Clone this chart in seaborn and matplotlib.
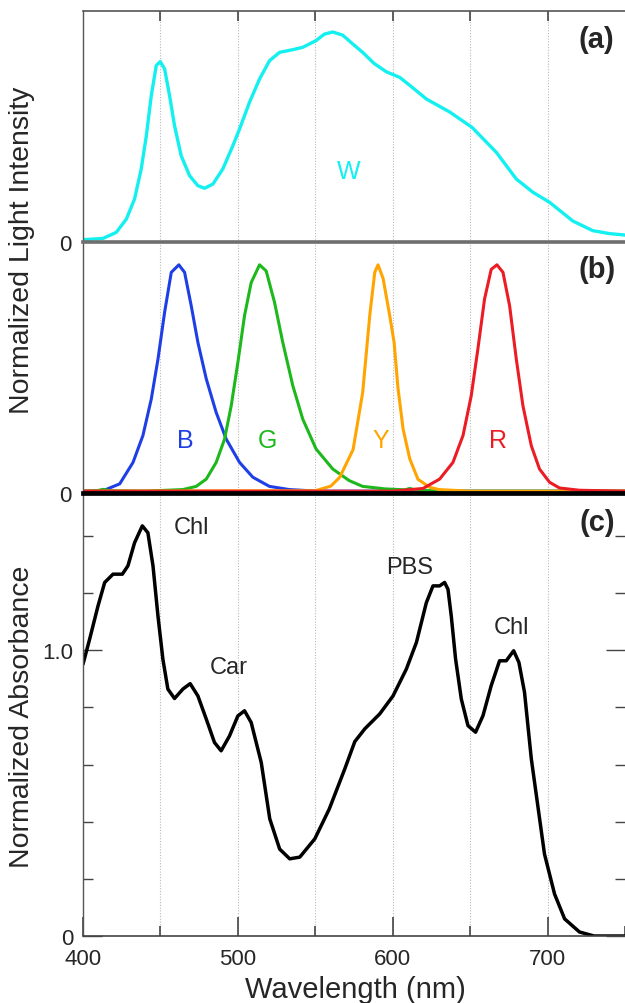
import numpy as np
import pandas as pd
import matplotlib
matplotlib.use("Agg")
import matplotlib.pyplot as plt
from matplotlib.ticker import MultipleLocator, FixedLocator
import seaborn as sns

# ---------------- data ----------------
w_wl = [400, 412.9, 421.5, 428, 433.3, 437.6, 440.9, 444.1, 447.3, 449.9, 452.7, 455.9, 459.1,
        463.4, 468.8, 474.2, 478.5, 483.9, 490.3, 496.8, 501.1, 507.5, 514, 520.4, 526.9, 535.5,
        541.9, 550.5, 555.9, 561.3, 567.7, 574.2, 580.6, 588, 596, 604.5, 612, 621.7, 636.8,
        651.2, 666.9, 679.8, 690.5, 701.3, 716.3, 729.2, 740, 750]
w_val = [0.011, 0.017, 0.046, 0.109, 0.205, 0.348, 0.506, 0.697, 0.84, 0.859, 0.824, 0.697, 0.554,
         0.411, 0.316, 0.268, 0.256, 0.276, 0.348, 0.459, 0.538, 0.665, 0.776, 0.863, 0.903, 0.916,
         0.927, 0.959, 0.99, 1.0, 0.985, 0.943, 0.903, 0.85, 0.81, 0.784, 0.74, 0.681, 0.619,
         0.546, 0.427, 0.30, 0.237, 0.189, 0.10, 0.054, 0.04, 0.033]

b_wl = [400, 412.9, 423.7, 432.3, 438.7, 444.1, 448.4, 452.7, 457, 461.9, 465.6, 469.9, 474.2,
        479.6, 486, 492.5, 501.1, 509.7, 520.4, 533.3, 546.2, 560, 750]
b_val = [0.008, 0.01, 0.04, 0.134, 0.252, 0.412, 0.586, 0.792, 0.967, 1.0, 0.967, 0.82, 0.66,
         0.50, 0.353, 0.236, 0.134, 0.069, 0.029, 0.015, 0.01, 0.008, 0.008]

g_wl = [400, 409, 413, 417, 440, 464.5, 473.1, 479.6, 486, 491.4, 495.7, 500, 504.3, 508.6,
        514, 518.3, 523.7, 529, 535.5, 541.9, 550.5, 561.3, 572, 580.6, 595, 608, 611, 614,
        625, 650, 750]
g_val = [0.008, 0.01, 0.016, 0.01, 0.008, 0.015, 0.029, 0.061, 0.134, 0.236, 0.382, 0.572, 0.777,
         0.922, 1.0, 0.973, 0.835, 0.66, 0.47, 0.324, 0.193, 0.105, 0.054, 0.029, 0.018, 0.014,
         0.02, 0.014, 0.01, 0.008, 0.008]

y_wl = [400, 550, 560, 565.8, 574.4, 580.6, 585.2, 588.4, 590.5, 593.8, 598, 600.9, 603.4,
        606.7, 611, 616.3, 623.9, 630, 650, 750]
y_val = [0.008, 0.01, 0.03, 0.069, 0.19, 0.44, 0.78, 0.967, 1.0, 0.94, 0.78, 0.66, 0.46,
         0.28, 0.15, 0.06, 0.025, 0.015, 0.008, 0.008]

r_wl = [400, 600, 619.6, 630.3, 638.9, 645.4, 650.7, 655, 659.3, 663.6, 667.3, 671.2, 675.5,
        679.8, 684.1, 689.5, 694.8, 701.3, 707.7, 720.6, 750]
r_val = [0.008, 0.008, 0.02, 0.061, 0.134, 0.252, 0.426, 0.631, 0.85, 0.98, 1.0, 0.967, 0.82,
         0.587, 0.382, 0.207, 0.105, 0.047, 0.022, 0.012, 0.008]

abs_wl = [400, 404.3, 409.7, 414, 419.4, 425.4, 429, 433.3, 438.3, 441.9, 445.2, 448.4, 451.6,
          454.8, 459.1, 464.5, 469.2, 474.2, 479.6, 484.9, 489.2, 494.6, 500, 504.3, 508.6,
          515.1, 520.6, 527, 533.5, 540, 549.7, 559, 569, 575.5, 582, 591.6, 600.2, 608.8,
          615.3, 621.7, 626, 630.3, 633.5, 635.7, 637.8, 640.6, 644.3, 648.6, 653.5, 658.3,
          663.6, 669, 673.3, 678.1, 681.5, 685.1, 689.5, 698, 704.5, 711, 720.6, 730, 750]
abs_val = [0.951, 1.039, 1.155, 1.237, 1.266, 1.266, 1.295, 1.376, 1.435, 1.411, 1.295, 1.12, 0.968,
           0.864, 0.831, 0.864, 0.883, 0.84, 0.759, 0.677, 0.648, 0.70, 0.77, 0.788, 0.747,
           0.607, 0.41, 0.304, 0.27, 0.276, 0.34, 0.444, 0.584, 0.68, 0.725, 0.777, 0.84, 0.934,
           1.027, 1.166, 1.225, 1.225, 1.237, 1.213, 1.12, 0.969, 0.829, 0.736, 0.713, 0.771,
           0.876, 0.963, 0.963, 0.998, 0.957, 0.853, 0.62, 0.287, 0.147, 0.06, 0.014, 0.0, 0.0]

led_names = ["B", "G", "Y", "R"]
led_colors = ["#1f3fe6", "#1cb81c", "#ffa400", "#ec1c24"]
led_label_x = [466, 519, 592, 668]

abs_labels = ["Chl", "Car", "PBS", "Chl"]
abs_label_x = [470, 494, 611, 677]
abs_label_y = [1.43, 0.94, 1.29, 1.08]

x_ticks = [400, 500, 600, 700]

# ---------------- style ----------------
sns.set_theme(style="white")
plt.rcParams["font.family"] = ["Liberation Sans", "DejaVu Sans"]

fig = plt.figure(figsize=(6.25, 10.04), dpi=100)
L, W = 83 / 625, 1 - 83 / 625
def fy(px):
    return 1 - px / 1004
axc = fig.add_axes([L, fy(937), W, fy(494) - fy(937)])
axb = fig.add_axes([L, fy(494), W, fy(243) - fy(494)])
axa = fig.add_axes([L, fy(243), W, fy(12) - fy(243)])
for ax in (axa, axb, axc):
    ax.set_facecolor("none")

grid_x = [450, 500, 550, 600, 650, 700]
for ax in (axa, axb, axc):
    ax.set_xlim(400, 750)
    for gx in grid_x:
        ax.axvline(gx, color="#b8b8b8", lw=0.8, ls=(0, (1, 1.5)), zorder=0)

# panel a
sns.lineplot(x=w_wl, y=w_val, ax=axa, color="#14f0f0", lw=2.4, sort=False)
axa.set_ylim(0, 1.1)
axa.text(571.6, 0.338, "W", color="#14f0f0", fontsize=18, ha="center", va="center")
axa.text(0.948, 0.879, "(a)", transform=axa.transAxes, fontsize=21, fontweight="bold",
         ha="center", va="center")

# panel b
series = [(b_wl, b_val), (g_wl, g_val), (y_wl, y_val), (r_wl, r_val)]
for (xs, ys), c in zip(series, led_colors):
    sns.lineplot(x=xs, y=ys, ax=axb, color=c, lw=2.2, sort=False)
for name, c, lx in zip(led_names, led_colors, led_label_x):
    axb.text(lx, 0.232, name, color=c, fontsize=18, ha="center", va="center")
axb.set_ylim(0, 1.1)
axb.text(0.948, 0.892, "(b)", transform=axb.transAxes, fontsize=21, fontweight="bold",
         ha="center", va="center")

# panel c
sns.lineplot(x=abs_wl, y=abs_val, ax=axc, color="black", lw=2.5, sort=False)
axc.set_ylim(0, 1.55)
for t, lx, ly in zip(abs_labels, abs_label_x, abs_label_y):
    axc.text(lx, ly, t, fontsize=17, ha="center", va="center")
axc.text(0.948, 0.935, "(c)", transform=axc.transAxes, fontsize=21, fontweight="bold",
         ha="center", va="center")

for ax in (axa, axb, axc):
    ax.set_xlabel("")
    ax.set_ylabel("")

# spines / ticks
for ax in (axa, axb):
    ax.set_yticks([0])
    ax.set_yticklabels(["0"])
    ax.tick_params(axis="y", length=0, pad=8, labelsize=16)
    ax.set_xticks([])
    ax.spines["right"].set_visible(False)
    ax.spines["left"].set_color("#555555")
    ax.spines["left"].set_linewidth(1.0)

axa.spines["top"].set_color("#555555")
axa.spines["top"].set_linewidth(1.2)
axa.spines["bottom"].set_color("#6e6e6e")
axa.spines["bottom"].set_linewidth(2.6)
axa.spines["bottom"].set_zorder(5)
axb.spines["top"].set_visible(False)
axb.spines["bottom"].set_color("black")
axb.spines["bottom"].set_linewidth(3.4)
axb.spines["bottom"].set_zorder(5)
# top ticks of panel a
axa.xaxis.set_ticks_position("top")
axa.set_xticks(grid_x)
axa.set_xticklabels([])
axa.tick_params(axis="x", direction="in", length=7, width=1.2, color="#444444", top=True, bottom=False)

axc.spines["top"].set_visible(False)
axc.spines["right"].set_visible(False)
axc.spines["left"].set_color("#555555")
axc.spines["left"].set_linewidth(1.0)
axc.spines["bottom"].set_color("#444444")
axc.spines["bottom"].set_linewidth(1.2)
axc.yaxis.set_major_locator(FixedLocator([0, 1.0]))
axc.yaxis.set_minor_locator(MultipleLocator(0.2))
axc.set_yticklabels(["0", "1.0"])
axc.tick_params(axis="y", which="major", direction="in", length=14, width=1.0, color="#444444",
                left=True, right=True, pad=7, labelsize=16)
axc.tick_params(axis="y", which="minor", direction="in", length=7, width=1.0, color="#444444",
                left=True, right=True)
axc.set_xticks(x_ticks)
axc.set_xticklabels([str(v) for v in x_ticks])
axc.xaxis.set_minor_locator(MultipleLocator(50))
axc.tick_params(axis="x", which="major", direction="in", length=14, width=1.2, color="#444444",
                bottom=True, pad=9, labelsize=16)
axc.tick_params(axis="x", which="minor", direction="in", length=7, width=1.2, color="#444444",
                bottom=True)

fig.text(22 / 625, fy(250), "Normalized Light Intensity", rotation=90, fontsize=20.5,
         ha="center", va="center")
fig.text(22 / 625, fy(717), "Normalized Absorbance", rotation=90, fontsize=20.5,
         ha="center", va="center")
fig.text(355 / 625, fy(990), "Wavelength (nm)", fontsize=21, ha="center", va="center")

fig.savefig("out.png", dpi=100)
